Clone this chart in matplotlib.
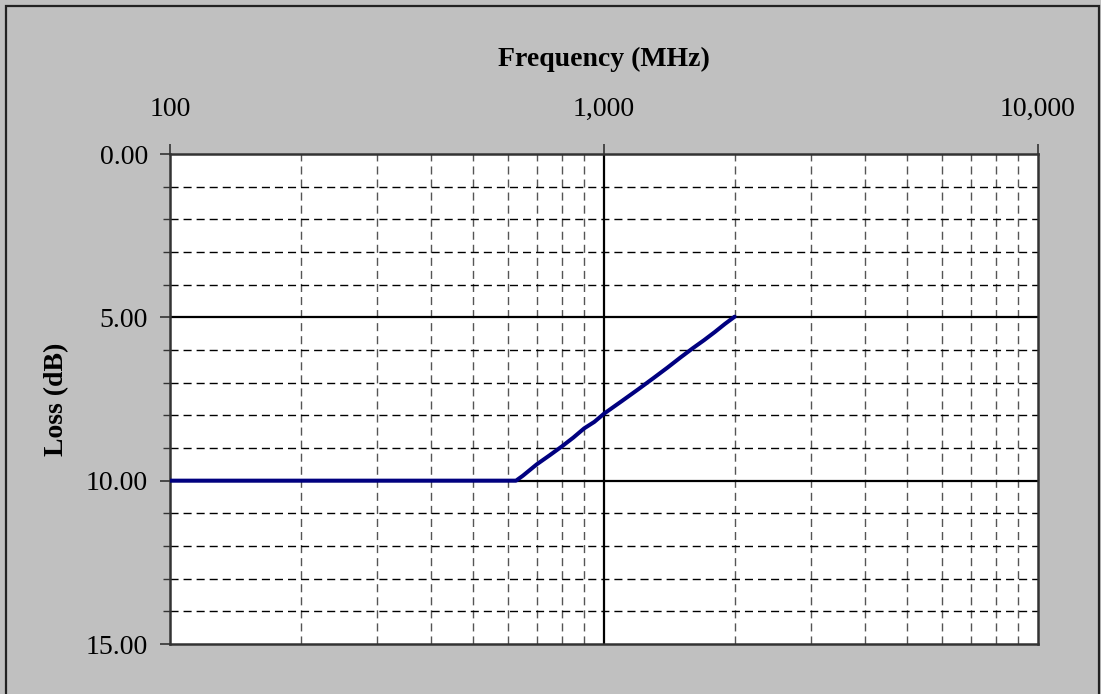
import matplotlib
matplotlib.use("Agg")
import matplotlib.pyplot as plt
from matplotlib.patches import Rectangle
from matplotlib.ticker import FixedLocator, FuncFormatter, NullLocator

# data
freq_mhz = [100, 200, 300, 400, 500, 600, 627, 650, 700, 750, 800, 850, 900,
            950, 1000, 1100, 1200, 1300, 1400, 1500, 1600, 1700, 1800, 1900, 2000]
loss_db = [10.0, 10.0, 10.0, 10.0, 10.0, 10.0, 10.0, 9.85, 9.50, 9.22, 8.95,
           8.68, 8.40, 8.20, 7.95, 7.56, 7.20, 6.86, 6.54, 6.23, 5.95, 5.70,
           5.45, 5.20, 4.98]

x_major = [100, 1000, 10000]
x_minor = [200, 300, 400, 500, 600, 700, 800, 900,
           2000, 3000, 4000, 5000, 6000, 7000, 8000, 9000]
y_major = [0, 5, 10, 15]
y_minor = [1, 2, 3, 4, 6, 7, 8, 9, 11, 12, 13, 14]

plt.rcParams['font.family'] = ['Liberation Serif', 'DejaVu Serif']

fig = plt.figure(figsize=(11.01, 6.94), dpi=100)
fig.patch.set_facecolor('#c0c0c0')
fig.patches.append(Rectangle((6 / 1101, -0.05), 1093 / 1101, 1.05 - 6 / 694,
                             transform=fig.transFigure, facecolor='none',
                             edgecolor='#222222', linewidth=1.6))

ax = fig.add_axes([170 / 1101, 1 - 644 / 694, 868 / 1101, 490 / 694])
ax.set_facecolor('white')

ax.set_xscale('log')
ax.set_xlim(100, 10000)
ax.set_ylim(15, 0)

# grid lines
for v in x_minor:
    ax.axvline(v, color='#555555', lw=1.0, dashes=(5.8, 3.6), zorder=1)
for v in y_minor:
    ax.axhline(v, color='black', lw=1.0, dashes=(5.8, 3.6), zorder=1)
ax.axvline(1000, color='black', lw=1.6, zorder=1)
for v in [5, 10]:
    ax.axhline(v, color='black', lw=1.6, zorder=1)

ax.plot(freq_mhz, loss_db, color='#000080', lw=2.9, zorder=3,
        solid_capstyle='round')

ax.xaxis.set_major_locator(FixedLocator(x_major))
ax.xaxis.set_minor_locator(NullLocator())
ax.xaxis.set_major_formatter(FuncFormatter(lambda v, p: f"{v:,.0f}"))
ax.xaxis.tick_top()
ax.xaxis.set_label_position('top')
ax.tick_params(axis='x', which='major', direction='out', length=7, width=1.2,
               color='#333333', labelsize=20, pad=16)

ax.yaxis.set_major_locator(FixedLocator(y_major))
ax.yaxis.set_minor_locator(FixedLocator(y_minor))
ax.yaxis.set_major_formatter(FuncFormatter(lambda v, p: f"{v:.2f}"))
ax.tick_params(axis='y', which='major', direction='out', length=7, width=1.2,
               color='#333333', labelsize=20, pad=9)
ax.tick_params(axis='y', which='minor', direction='out', length=5, width=1.0,
               color='#333333')

for s in ax.spines.values():
    s.set_color('#333333')
    s.set_linewidth(1.8)

ax.set_xlabel('Frequency (MHz)', fontsize=20, fontweight='bold', labelpad=22)
ax.set_ylabel('Loss (dB)', fontsize=20, fontweight='bold', labelpad=12)

fig.savefig('out.png', dpi=100, facecolor=fig.get_facecolor())
